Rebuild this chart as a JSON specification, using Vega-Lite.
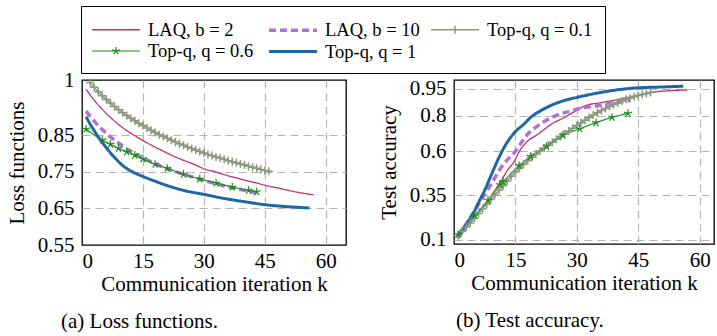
{
  "$schema": "https://vega.github.io/schema/vega-lite/v6.json",
  "padding": {"left": 5, "top": 5, "right": 0, "bottom": 0},
  "background": "white",
  "config": {
    "font": "Liberation Serif",
    "view": {"stroke": "black", "strokeWidth": 1.3},
    "axis": {
      "labelFont": "Liberation Serif", "labelFontSize": 21, "labelColor": "black",
      "titleFont": "Liberation Serif", "titleFontSize": 21, "titleFontWeight": "normal", "titleColor": "black",
      "domain": false, "ticks": false, "grid": true, "gridColor": "#b4b4b4", "gridDash": [8, 5], "gridWidth": 1.2,
      "labelPadding": 8, "titlePadding": 10
    },
    "axisX": {"labelPadding": 5, "titlePadding": 2}
  },
  "datasets": {
    "loss": [
      {"s": "LAQ, b = 2", "k": 1, "v": 0.975}, {"s": "LAQ, b = 2", "k": 3, "v": 0.945}, {"s": "LAQ, b = 2", "k": 5, "v": 0.92}, {"s": "LAQ, b = 2", "k": 7, "v": 0.898}, {"s": "LAQ, b = 2", "k": 10, "v": 0.87}, {"s": "LAQ, b = 2", "k": 12, "v": 0.855}, {"s": "LAQ, b = 2", "k": 15, "v": 0.835}, {"s": "LAQ, b = 2", "k": 18, "v": 0.817}, {"s": "LAQ, b = 2", "k": 20, "v": 0.806}, {"s": "LAQ, b = 2", "k": 23, "v": 0.79}, {"s": "LAQ, b = 2", "k": 25, "v": 0.781}, {"s": "LAQ, b = 2", "k": 28, "v": 0.768}, {"s": "LAQ, b = 2", "k": 30, "v": 0.758}, {"s": "LAQ, b = 2", "k": 33, "v": 0.749}, {"s": "LAQ, b = 2", "k": 35, "v": 0.742}, {"s": "LAQ, b = 2", "k": 38, "v": 0.733}, {"s": "LAQ, b = 2", "k": 40, "v": 0.727}, {"s": "LAQ, b = 2", "k": 43, "v": 0.719}, {"s": "LAQ, b = 2", "k": 45, "v": 0.713}, {"s": "LAQ, b = 2", "k": 48, "v": 0.706}, {"s": "LAQ, b = 2", "k": 50, "v": 0.701}, {"s": "LAQ, b = 2", "k": 53, "v": 0.694}, {"s": "LAQ, b = 2", "k": 57, "v": 0.687},
      {"s": "LAQ, b = 10", "k": 1, "v": 0.915}, {"s": "LAQ, b = 10", "k": 3, "v": 0.888}, {"s": "LAQ, b = 10", "k": 5, "v": 0.865}, {"s": "LAQ, b = 10", "k": 7, "v": 0.845}, {"s": "LAQ, b = 10", "k": 10, "v": 0.82}, {"s": "LAQ, b = 10", "k": 12, "v": 0.806}, {"s": "LAQ, b = 10", "k": 15, "v": 0.787}, {"s": "LAQ, b = 10", "k": 18, "v": 0.772}, {"s": "LAQ, b = 10", "k": 20, "v": 0.762}, {"s": "LAQ, b = 10", "k": 23, "v": 0.75}, {"s": "LAQ, b = 10", "k": 25, "v": 0.743}, {"s": "LAQ, b = 10", "k": 28, "v": 0.733}, {"s": "LAQ, b = 10", "k": 30, "v": 0.726}, {"s": "LAQ, b = 10", "k": 33, "v": 0.717}, {"s": "LAQ, b = 10", "k": 35, "v": 0.711}, {"s": "LAQ, b = 10", "k": 38, "v": 0.704}, {"s": "LAQ, b = 10", "k": 40, "v": 0.699}, {"s": "LAQ, b = 10", "k": 43, "v": 0.692},
      {"s": "Top-q, q = 0.1", "k": 2, "v": 0.993}, {"s": "Top-q, q = 0.1", "k": 3, "v": 0.98}, {"s": "Top-q, q = 0.1", "k": 4, "v": 0.968}, {"s": "Top-q, q = 0.1", "k": 5, "v": 0.957}, {"s": "Top-q, q = 0.1", "k": 6, "v": 0.947}, {"s": "Top-q, q = 0.1", "k": 7, "v": 0.937}, {"s": "Top-q, q = 0.1", "k": 8, "v": 0.928}, {"s": "Top-q, q = 0.1", "k": 9, "v": 0.919}, {"s": "Top-q, q = 0.1", "k": 10, "v": 0.911}, {"s": "Top-q, q = 0.1", "k": 11, "v": 0.903}, {"s": "Top-q, q = 0.1", "k": 12, "v": 0.896}, {"s": "Top-q, q = 0.1", "k": 13, "v": 0.889}, {"s": "Top-q, q = 0.1", "k": 14, "v": 0.882}, {"s": "Top-q, q = 0.1", "k": 15, "v": 0.876}, {"s": "Top-q, q = 0.1", "k": 16, "v": 0.869}, {"s": "Top-q, q = 0.1", "k": 17, "v": 0.863}, {"s": "Top-q, q = 0.1", "k": 18, "v": 0.857}, {"s": "Top-q, q = 0.1", "k": 19, "v": 0.851}, {"s": "Top-q, q = 0.1", "k": 20, "v": 0.846}, {"s": "Top-q, q = 0.1", "k": 21, "v": 0.841}, {"s": "Top-q, q = 0.1", "k": 22, "v": 0.836}, {"s": "Top-q, q = 0.1", "k": 23, "v": 0.831}, {"s": "Top-q, q = 0.1", "k": 24, "v": 0.826}, {"s": "Top-q, q = 0.1", "k": 25, "v": 0.822}, {"s": "Top-q, q = 0.1", "k": 26, "v": 0.817}, {"s": "Top-q, q = 0.1", "k": 27, "v": 0.813}, {"s": "Top-q, q = 0.1", "k": 28, "v": 0.809}, {"s": "Top-q, q = 0.1", "k": 29, "v": 0.805}, {"s": "Top-q, q = 0.1", "k": 30, "v": 0.801}, {"s": "Top-q, q = 0.1", "k": 31, "v": 0.797}, {"s": "Top-q, q = 0.1", "k": 32, "v": 0.794}, {"s": "Top-q, q = 0.1", "k": 33, "v": 0.79}, {"s": "Top-q, q = 0.1", "k": 34, "v": 0.787}, {"s": "Top-q, q = 0.1", "k": 35, "v": 0.784}, {"s": "Top-q, q = 0.1", "k": 36, "v": 0.78}, {"s": "Top-q, q = 0.1", "k": 37, "v": 0.777}, {"s": "Top-q, q = 0.1", "k": 38, "v": 0.774}, {"s": "Top-q, q = 0.1", "k": 39, "v": 0.771}, {"s": "Top-q, q = 0.1", "k": 40, "v": 0.768}, {"s": "Top-q, q = 0.1", "k": 41, "v": 0.765}, {"s": "Top-q, q = 0.1", "k": 42, "v": 0.762}, {"s": "Top-q, q = 0.1", "k": 43, "v": 0.759}, {"s": "Top-q, q = 0.1", "k": 44, "v": 0.756}, {"s": "Top-q, q = 0.1", "k": 45, "v": 0.753}, {"s": "Top-q, q = 0.1", "k": 46, "v": 0.751},
      {"s": "Top-q, q = 0.6", "k": 1, "v": 0.866}, {"s": "Top-q, q = 0.6", "k": 5, "v": 0.836}, {"s": "Top-q, q = 0.6", "k": 7, "v": 0.825}, {"s": "Top-q, q = 0.6", "k": 9, "v": 0.814}, {"s": "Top-q, q = 0.6", "k": 11, "v": 0.804}, {"s": "Top-q, q = 0.6", "k": 13, "v": 0.795}, {"s": "Top-q, q = 0.6", "k": 15, "v": 0.785}, {"s": "Top-q, q = 0.6", "k": 18, "v": 0.77}, {"s": "Top-q, q = 0.6", "k": 21, "v": 0.759}, {"s": "Top-q, q = 0.6", "k": 25, "v": 0.743}, {"s": "Top-q, q = 0.6", "k": 29, "v": 0.73}, {"s": "Top-q, q = 0.6", "k": 33, "v": 0.719}, {"s": "Top-q, q = 0.6", "k": 37, "v": 0.708}, {"s": "Top-q, q = 0.6", "k": 41, "v": 0.699}, {"s": "Top-q, q = 0.6", "k": 43, "v": 0.695},
      {"s": "Top-q, q = 1", "k": 1, "v": 0.9}, {"s": "Top-q, q = 1", "k": 2, "v": 0.88}, {"s": "Top-q, q = 1", "k": 3, "v": 0.862}, {"s": "Top-q, q = 1", "k": 4, "v": 0.845}, {"s": "Top-q, q = 1", "k": 6, "v": 0.815}, {"s": "Top-q, q = 1", "k": 8, "v": 0.789}, {"s": "Top-q, q = 1", "k": 10, "v": 0.767}, {"s": "Top-q, q = 1", "k": 12, "v": 0.752}, {"s": "Top-q, q = 1", "k": 15, "v": 0.737}, {"s": "Top-q, q = 1", "k": 18, "v": 0.724}, {"s": "Top-q, q = 1", "k": 21, "v": 0.712}, {"s": "Top-q, q = 1", "k": 25, "v": 0.699}, {"s": "Top-q, q = 1", "k": 30, "v": 0.688}, {"s": "Top-q, q = 1", "k": 35, "v": 0.677}, {"s": "Top-q, q = 1", "k": 40, "v": 0.668}, {"s": "Top-q, q = 1", "k": 45, "v": 0.66}, {"s": "Top-q, q = 1", "k": 50, "v": 0.655}, {"s": "Top-q, q = 1", "k": 56, "v": 0.651}
    ],
    "acc": [
      {"s": "LAQ, b = 2", "k": 1, "v": 0.105}, {"s": "LAQ, b = 2", "k": 3, "v": 0.17}, {"s": "LAQ, b = 2", "k": 4.6, "v": 0.226}, {"s": "LAQ, b = 2", "k": 6.5, "v": 0.27}, {"s": "LAQ, b = 2", "k": 8.3, "v": 0.32}, {"s": "LAQ, b = 2", "k": 10, "v": 0.38}, {"s": "LAQ, b = 2", "k": 11.5, "v": 0.432}, {"s": "LAQ, b = 2", "k": 13, "v": 0.49}, {"s": "LAQ, b = 2", "k": 14.8, "v": 0.545}, {"s": "LAQ, b = 2", "k": 16, "v": 0.6}, {"s": "LAQ, b = 2", "k": 17.6, "v": 0.648}, {"s": "LAQ, b = 2", "k": 20.5, "v": 0.695}, {"s": "LAQ, b = 2", "k": 23.7, "v": 0.75}, {"s": "LAQ, b = 2", "k": 27, "v": 0.79}, {"s": "LAQ, b = 2", "k": 30, "v": 0.83}, {"s": "LAQ, b = 2", "k": 32, "v": 0.855}, {"s": "LAQ, b = 2", "k": 36, "v": 0.873}, {"s": "LAQ, b = 2", "k": 40, "v": 0.89}, {"s": "LAQ, b = 2", "k": 44, "v": 0.91}, {"s": "LAQ, b = 2", "k": 48, "v": 0.93}, {"s": "LAQ, b = 2", "k": 52, "v": 0.939}, {"s": "LAQ, b = 2", "k": 57, "v": 0.944},
      {"s": "LAQ, b = 10", "k": 1, "v": 0.12}, {"s": "LAQ, b = 10", "k": 3, "v": 0.19}, {"s": "LAQ, b = 10", "k": 5, "v": 0.263}, {"s": "LAQ, b = 10", "k": 6.5, "v": 0.32}, {"s": "LAQ, b = 10", "k": 8.3, "v": 0.385}, {"s": "LAQ, b = 10", "k": 10, "v": 0.45}, {"s": "LAQ, b = 10", "k": 11.5, "v": 0.507}, {"s": "LAQ, b = 10", "k": 13, "v": 0.55}, {"s": "LAQ, b = 10", "k": 14.8, "v": 0.592}, {"s": "LAQ, b = 10", "k": 16.5, "v": 0.65}, {"s": "LAQ, b = 10", "k": 18, "v": 0.695}, {"s": "LAQ, b = 10", "k": 20, "v": 0.735}, {"s": "LAQ, b = 10", "k": 22, "v": 0.765}, {"s": "LAQ, b = 10", "k": 24, "v": 0.79}, {"s": "LAQ, b = 10", "k": 26, "v": 0.81}, {"s": "LAQ, b = 10", "k": 28, "v": 0.822}, {"s": "LAQ, b = 10", "k": 30, "v": 0.835}, {"s": "LAQ, b = 10", "k": 32, "v": 0.845}, {"s": "LAQ, b = 10", "k": 34.3, "v": 0.852}, {"s": "LAQ, b = 10", "k": 37.6, "v": 0.866}, {"s": "LAQ, b = 10", "k": 41.6, "v": 0.88}, {"s": "LAQ, b = 10", "k": 43, "v": 0.884},
      {"s": "Top-q, q = 0.1", "k": 1, "v": 0.125}, {"s": "Top-q, q = 0.1", "k": 2, "v": 0.148}, {"s": "Top-q, q = 0.1", "k": 3, "v": 0.172}, {"s": "Top-q, q = 0.1", "k": 4, "v": 0.195}, {"s": "Top-q, q = 0.1", "k": 5, "v": 0.222}, {"s": "Top-q, q = 0.1", "k": 6, "v": 0.249}, {"s": "Top-q, q = 0.1", "k": 7, "v": 0.275}, {"s": "Top-q, q = 0.1", "k": 8, "v": 0.301}, {"s": "Top-q, q = 0.1", "k": 9, "v": 0.327}, {"s": "Top-q, q = 0.1", "k": 10, "v": 0.353}, {"s": "Top-q, q = 0.1", "k": 11, "v": 0.379}, {"s": "Top-q, q = 0.1", "k": 12, "v": 0.405}, {"s": "Top-q, q = 0.1", "k": 13, "v": 0.432}, {"s": "Top-q, q = 0.1", "k": 14, "v": 0.458}, {"s": "Top-q, q = 0.1", "k": 15, "v": 0.482}, {"s": "Top-q, q = 0.1", "k": 16, "v": 0.505}, {"s": "Top-q, q = 0.1", "k": 17, "v": 0.526}, {"s": "Top-q, q = 0.1", "k": 18, "v": 0.546}, {"s": "Top-q, q = 0.1", "k": 19, "v": 0.565}, {"s": "Top-q, q = 0.1", "k": 20, "v": 0.583}, {"s": "Top-q, q = 0.1", "k": 21, "v": 0.6}, {"s": "Top-q, q = 0.1", "k": 22, "v": 0.617}, {"s": "Top-q, q = 0.1", "k": 23, "v": 0.634}, {"s": "Top-q, q = 0.1", "k": 24, "v": 0.65}, {"s": "Top-q, q = 0.1", "k": 25, "v": 0.666}, {"s": "Top-q, q = 0.1", "k": 26, "v": 0.682}, {"s": "Top-q, q = 0.1", "k": 27, "v": 0.698}, {"s": "Top-q, q = 0.1", "k": 28, "v": 0.713}, {"s": "Top-q, q = 0.1", "k": 29, "v": 0.729}, {"s": "Top-q, q = 0.1", "k": 30, "v": 0.744}, {"s": "Top-q, q = 0.1", "k": 31, "v": 0.759}, {"s": "Top-q, q = 0.1", "k": 32, "v": 0.774}, {"s": "Top-q, q = 0.1", "k": 33, "v": 0.789}, {"s": "Top-q, q = 0.1", "k": 34, "v": 0.803}, {"s": "Top-q, q = 0.1", "k": 35, "v": 0.816}, {"s": "Top-q, q = 0.1", "k": 36, "v": 0.828}, {"s": "Top-q, q = 0.1", "k": 37, "v": 0.84}, {"s": "Top-q, q = 0.1", "k": 38, "v": 0.851}, {"s": "Top-q, q = 0.1", "k": 39, "v": 0.862}, {"s": "Top-q, q = 0.1", "k": 40, "v": 0.872}, {"s": "Top-q, q = 0.1", "k": 41, "v": 0.882}, {"s": "Top-q, q = 0.1", "k": 42, "v": 0.891}, {"s": "Top-q, q = 0.1", "k": 43, "v": 0.899}, {"s": "Top-q, q = 0.1", "k": 44, "v": 0.906}, {"s": "Top-q, q = 0.1", "k": 45, "v": 0.913}, {"s": "Top-q, q = 0.1", "k": 46, "v": 0.919}, {"s": "Top-q, q = 0.1", "k": 47, "v": 0.924}, {"s": "Top-q, q = 0.1", "k": 48, "v": 0.929},
      {"s": "Top-q, q = 0.6", "k": 1, "v": 0.13}, {"s": "Top-q, q = 0.6", "k": 5, "v": 0.237}, {"s": "Top-q, q = 0.6", "k": 8.3, "v": 0.322}, {"s": "Top-q, q = 0.6", "k": 11.2, "v": 0.41}, {"s": "Top-q, q = 0.6", "k": 12, "v": 0.428}, {"s": "Top-q, q = 0.6", "k": 15.9, "v": 0.518}, {"s": "Top-q, q = 0.6", "k": 18.7, "v": 0.57}, {"s": "Top-q, q = 0.6", "k": 22.6, "v": 0.626}, {"s": "Top-q, q = 0.6", "k": 26.6, "v": 0.689}, {"s": "Top-q, q = 0.6", "k": 30.7, "v": 0.725}, {"s": "Top-q, q = 0.6", "k": 34.7, "v": 0.76}, {"s": "Top-q, q = 0.6", "k": 38.6, "v": 0.79}, {"s": "Top-q, q = 0.6", "k": 42.5, "v": 0.812},
      {"s": "Top-q, q = 1", "k": 1, "v": 0.13}, {"s": "Top-q, q = 1", "k": 3, "v": 0.19}, {"s": "Top-q, q = 1", "k": 4.6, "v": 0.245}, {"s": "Top-q, q = 1", "k": 6, "v": 0.31}, {"s": "Top-q, q = 1", "k": 7.5, "v": 0.38}, {"s": "Top-q, q = 1", "k": 9, "v": 0.46}, {"s": "Top-q, q = 1", "k": 10.7, "v": 0.55}, {"s": "Top-q, q = 1", "k": 12, "v": 0.61}, {"s": "Top-q, q = 1", "k": 13.6, "v": 0.67}, {"s": "Top-q, q = 1", "k": 15, "v": 0.71}, {"s": "Top-q, q = 1", "k": 17, "v": 0.75}, {"s": "Top-q, q = 1", "k": 19, "v": 0.795}, {"s": "Top-q, q = 1", "k": 21, "v": 0.825}, {"s": "Top-q, q = 1", "k": 24, "v": 0.86}, {"s": "Top-q, q = 1", "k": 27, "v": 0.885}, {"s": "Top-q, q = 1", "k": 30, "v": 0.902}, {"s": "Top-q, q = 1", "k": 34, "v": 0.922}, {"s": "Top-q, q = 1", "k": 40, "v": 0.945}, {"s": "Top-q, q = 1", "k": 45, "v": 0.956}, {"s": "Top-q, q = 1", "k": 50, "v": 0.96}, {"s": "Top-q, q = 1", "k": 56, "v": 0.965}
    ]
  },
  "spacing": 30,
  "resolve": {"scale": {"color": "shared", "strokeWidth": "shared", "strokeDash": "shared"}, "legend": {"color": "shared"}},
  "hconcat": [
    {
      "width": 264, "height": 165,
      "data": {"name": "loss"},
      "title": {"text": "(a) Loss functions.", "orient": "bottom", "anchor": "start", "frame": "group", "dx": -21, "offset": 17, "font": "Liberation Serif", "fontSize": 21, "fontWeight": "normal", "color": "black"},
      "encoding": {
        "x": {"field": "k", "type": "quantitative", "scale": {"domain": [0, 65], "nice": false}, "axis": {"values": [0, 15, 30, 45, 60], "format": ".0f", "title": "Communication iteration k", "gridOpacity": {"condition": {"test": "datum.value === 0", "value": 0}, "value": 1}}},
        "y": {"field": "v", "type": "quantitative", "scale": {"domain": [0.55, 1], "nice": false, "zero": false}, "axis": {"values": [0.55, 0.65, 0.75, 0.85, 1], "format": ".2~f", "title": "Loss functions", "gridOpacity": {"condition": {"test": "datum.value === 0.55 || datum.value === 1", "value": 0}, "value": 1}}}
      },
      "layer": [
        {
          "mark": {"type": "line", "interpolate": "monotone"},
          "encoding": {
            "color": {"field": "s", "type": "nominal", "sort": null,
              "scale": {"domain": ["LAQ, b = 2", "LAQ, b = 10", "Top-q, q = 0.1", "Top-q, q = 0.6", "Top-q, q = 1"], "range": ["#c0306e", "#b36fd8", "#8a9a7e", "#1e8c1e", "#1f66a6"]},
              "legend": {
                "orient": "none", "legendX": -1, "legendY": -74, "direction": "horizontal", "columns": 3, "title": null,
                "symbolType": "stroke", "symbolSize": 400, "symbolOffset": 11, "labelFont": "Liberation Serif", "labelFontSize": 18.5, "labelColor": "black", "labelOffset": 20, "labelLimit": 300,
                "columnPadding": 8, "rowPadding": -7, "padding": 12, "strokeColor": "black", "fillColor": "white",
                "encode": {"symbols": {"update": {
                  "shape": {"signal": "datum.value === 'Top-q, q = 0.1' ? 'M-2.4,0H2.4M0,-0.4V0.4' : datum.value === 'Top-q, q = 0.6' ? 'M-2.4,0H2.4M0,0L0,-0.4M0,0L0.38,-0.12M0,0L0.24,0.32M0,0L-0.24,0.32M0,0L-0.38,-0.12' : 'M-2.4,0H2.4'"},
                  "strokeWidth": {"signal": "datum.value === 'LAQ, b = 10' ? 4 : datum.value === 'Top-q, q = 1' ? 3.5 : 1.5"},
                  "strokeDash": {"signal": "datum.value === 'LAQ, b = 10' ? [7, 4] : [1, 0]"}
                }}}
              }},
            "strokeWidth": {"field": "s", "type": "nominal", "legend": null, "scale": {"type": "ordinal", "domain": ["LAQ, b = 2", "LAQ, b = 10", "Top-q, q = 0.1", "Top-q, q = 0.6", "Top-q, q = 1"], "range": [1.3, 3.5, 1.5, 1.2, 3]}},
            "strokeDash": {"field": "s", "type": "nominal", "legend": null, "scale": {"domain": ["LAQ, b = 2", "LAQ, b = 10", "Top-q, q = 0.1", "Top-q, q = 0.6", "Top-q, q = 1"], "range": [[1, 0], [7, 4], [1, 0], [1, 0], [1, 0]]}}
          }
        },
        {
          "transform": [{"filter": "datum.s === 'Top-q, q = 0.1'"}],
          "mark": {"type": "point", "shape": "M0,-1V1M-1,0H1", "filled": false, "size": 64, "strokeWidth": 1.5, "color": "#8a9a7e", "opacity": 1}
        },
        {
          "transform": [{"filter": "datum.s === 'Top-q, q = 0.6'"}],
          "mark": {"type": "point", "shape": "M0,0L0,-1M0,0L0.95,-0.31M0,0L0.59,0.81M0,0L-0.59,0.81M0,0L-0.95,-0.31", "filled": false, "size": 70, "strokeWidth": 1.2, "color": "#1e8c1e", "opacity": 1}
        }
      ]
    },
    {
      "width": 260, "height": 164,
      "data": {"name": "acc"},
      "title": {"text": "(b) Test accuracy.", "orient": "bottom", "anchor": "start", "frame": "group", "dx": 2, "offset": 17, "font": "Liberation Serif", "fontSize": 21, "fontWeight": "normal", "color": "black"},
      "encoding": {
        "x": {"field": "k", "type": "quantitative", "scale": {"domain": [0, 63.5], "nice": false}, "axis": {"values": [0, 15, 30, 45, 60], "format": ".0f", "title": "Communication iteration k", "gridOpacity": {"condition": {"test": "datum.value === 0", "value": 0}, "value": 1}}},
        "y": {"field": "v", "type": "quantitative", "scale": {"domain": [0.077, 1], "nice": false, "zero": false}, "axis": {"values": [0.1, 0.35, 0.6, 0.8, 0.95], "format": ".2~f", "title": "Test accuracy"}}
      },
      "layer": [
        {
          "mark": {"type": "line", "interpolate": "monotone"},
          "encoding": {
            "color": {"field": "s", "type": "nominal", "sort": null,
              "scale": {"domain": ["LAQ, b = 2", "LAQ, b = 10", "Top-q, q = 0.1", "Top-q, q = 0.6", "Top-q, q = 1"], "range": ["#c0306e", "#b36fd8", "#8a9a7e", "#1e8c1e", "#1f66a6"]}},
            "strokeWidth": {"field": "s", "type": "nominal", "legend": null, "scale": {"type": "ordinal", "domain": ["LAQ, b = 2", "LAQ, b = 10", "Top-q, q = 0.1", "Top-q, q = 0.6", "Top-q, q = 1"], "range": [1.3, 3.5, 1.5, 1.2, 3]}},
            "strokeDash": {"field": "s", "type": "nominal", "legend": null, "scale": {"domain": ["LAQ, b = 2", "LAQ, b = 10", "Top-q, q = 0.1", "Top-q, q = 0.6", "Top-q, q = 1"], "range": [[1, 0], [7, 4], [1, 0], [1, 0], [1, 0]]}}
          }
        },
        {
          "transform": [{"filter": "datum.s === 'Top-q, q = 0.1'"}],
          "mark": {"type": "point", "shape": "M0,-1V1M-1,0H1", "filled": false, "size": 64, "strokeWidth": 1.5, "color": "#8a9a7e", "opacity": 1}
        },
        {
          "transform": [{"filter": "datum.s === 'Top-q, q = 0.6'"}],
          "mark": {"type": "point", "shape": "M0,0L0,-1M0,0L0.95,-0.31M0,0L0.59,0.81M0,0L-0.59,0.81M0,0L-0.95,-0.31", "filled": false, "size": 70, "strokeWidth": 1.2, "color": "#1e8c1e", "opacity": 1}
        }
      ]
    }
  ]
}
